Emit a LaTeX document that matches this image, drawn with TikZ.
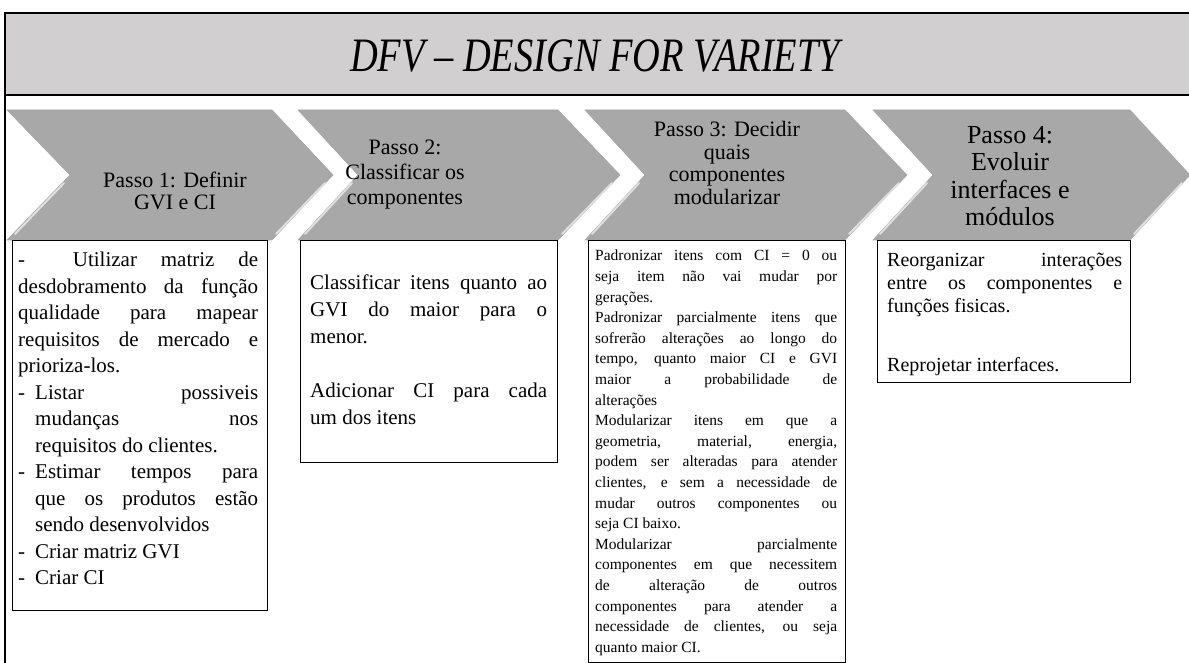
\documentclass[tikz,border=0pt]{standalone}
\usepackage{fontspec}
\setmainfont{Liberation Serif}
\usepackage{graphicx}
\usepackage{xcolor}
\usetikzlibrary{positioning}

\definecolor{bandgray}{HTML}{D1CFCF}
\definecolor{arrowgray}{HTML}{A8A8A8}

% one justified line of a box
\newcommand{\jl}[1]{\makebox[\linewidth][s]{#1}\\}
% dash of a list item
\newcommand{\dsh}{\makebox[17pt][l]{-}}

\tikzset{
  chevron/.style={fill=arrowgray, draw=gray!70, line width=0.6pt},
  shine/.style={draw=white!75!gray, line width=2pt, line cap=round},
  steptext/.style={align=center, inner sep=0pt},
  textbox/.style={draw=black, fill=white, line width=1pt},
  boxtext/.style={anchor=north west, inner sep=0pt, align=justify, text width=#1},
}

\begin{document}
\begin{tikzpicture}[x=1pt, y=-1pt]
    \useasboundingbox (0,0) rectangle (1189,663);
    \clip (0,0) rectangle (1189,663);

    % Title band
    \fill[bandgray] (5,13) rectangle (1195,95);
    \draw[line width=2.5pt] (1195,13) -- (5,13) -- (5,670);
    \draw[line width=2pt] (5,95) -- (1195,95);
    \node (title) at (595,56)
        {\scalebox{0.8}[1]{\fontsize{48}{50}\selectfont\itshape DFV – DESIGN FOR VARIETY}};

    % Chevrons
    \draw[chevron] (7,110) -- (272,110) -- (333,175) -- (272,240) -- (7,240) -- (70,175) -- cycle;
    \draw[chevron] (298,110) -- (558,110) -- (620,175) -- (558,240) -- (298,240) -- (358,175) -- cycle;
    \draw[chevron] (585,110) -- (845,110) -- (907,175) -- (845,240) -- (585,240) -- (645,175) -- cycle;
    \draw[chevron] (873,110) -- (1130,110) -- (1190,175) -- (1130,240) -- (873,240) -- (933,175) -- cycle;

    % light lower edges
    \draw[shine] (325,183) -- (276,234);
    \draw[shine] (64,183) -- (15,234);
    \draw[shine] (612,183) -- (562,234);
    \draw[shine] (352,183) -- (305,234);
    \draw[shine] (899,183) -- (849,234);
    \draw[shine] (639,183) -- (592,234);
    \draw[shine] (1182,183) -- (1134,234);
    \draw[shine] (927,183) -- (880,234);

    \node[steptext, font=\fontsize{22}{22}\selectfont] (step1) at (175,191)
        {Passo 1: Definir\\GVI e CI};
    \node[steptext, font=\fontsize{22}{25}\selectfont] (step2) at (405,175)
        {Passo 2:\\Classificar os\\componentes};
    \node[steptext, font=\fontsize{22}{22.5}\selectfont] (step3) at (727,163)
        {Passo 3: Decidir\\quais\\componentes\\modularizar};
    \node[steptext, font=\fontsize{26}{27.5}\selectfont] (step4) at (1010,176)
        {Passo 4:\\Evoluir\\interfaces e\\módulos};

    % Text boxes below the chevrons
    \draw[textbox] (12,241) rectangle (267,610);
    \draw[textbox] (300,241) rectangle (557,462);
    \draw[textbox] (588,241) rectangle (845,662);
    \draw[textbox] (877,241) rectangle (1130,382);

    \node[boxtext=240pt, font=\fontsize{21}{26.5}\selectfont] (text1) at (18,252) {%
        \jl{- \ Utilizar matriz de}
        \jl{desdobramento da função}
        \jl{qualidade para mapear}
        \jl{requisitos de mercado e}
        prioriza-los.\\
        \dsh\makebox[223pt][s]{Listar possiveis}\\
        \hspace*{17pt}\makebox[223pt][s]{mudanças nos}\\
        \hspace*{17pt}requisitos do clientes.\\
        \dsh\makebox[223pt][s]{Estimar tempos para}\\
        \hspace*{17pt}\makebox[223pt][s]{que os produtos estão}\\
        \hspace*{17pt}sendo desenvolvidos\\
        \dsh Criar matriz GVI\\
        \dsh Criar CI};

    \node[boxtext=237pt, font=\fontsize{21}{27}\selectfont] (text2) at (310,275) {%
        \jl{Classificar itens quanto ao}
        \jl{GVI do maior para o}
        menor.\\[27pt]
        \jl{Adicionar CI para cada}
        um dos itens};

    \node[boxtext=242pt, font=\fontsize{15.5}{20.6}\selectfont] (text3) at (595,250) {%
        \jl{Padronizar itens com CI = 0 ou}
        \jl{seja item não vai mudar por}
        gerações.\\
        \jl{Padronizar parcialmente itens que}
        \jl{sofrerão alterações ao longo do}
        \jl{tempo, quanto maior CI e GVI}
        \jl{maior a probabilidade de}
        alterações\\
        \jl{Modularizar itens em que a}
        \jl{geometria, material, energia,}
        \jl{podem ser alteradas para atender}
        \jl{clientes, e sem a necessidade de}
        \jl{mudar outros componentes ou}
        seja CI baixo.\\
        \jl{Modularizar parcialmente}
        \jl{componentes em que necessitem}
        \jl{de alteração de outros}
        \jl{componentes para atender a}
        \jl{necessidade de clientes, ou seja}
        quanto maior CI.};

    \node[boxtext=235pt, font=\fontsize{20}{23}\selectfont] (text4) at (887,253) {%
        \jl{Reorganizar interações}
        \jl{entre os componentes e}
        funções fisicas.\\[36pt]
        Reprojetar interfaces.};
\end{tikzpicture}
\end{document}
